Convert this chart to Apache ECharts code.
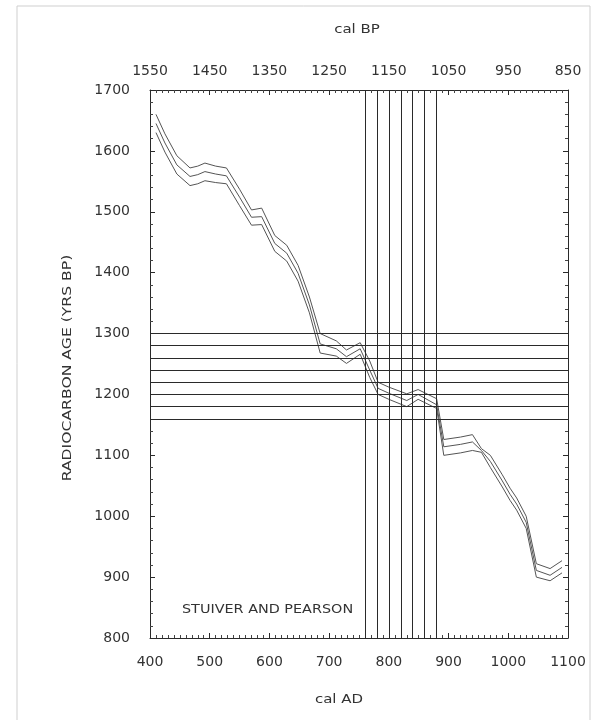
<!DOCTYPE html>
<html>
<head>
<meta charset="utf-8">
<script src="https://cdn.jsdelivr.net/npm/echarts@6/dist/echarts.min.js"></script>
<style>
html,body{margin:0;padding:0;background:#fff;}
#c{width:609px;height:720px;}
</style>
</head>
<body>
<div id="c"></div>
<script>
// Calendar years (cal AD) of curve vertices
const calAD  = [410, 425, 445, 467, 480, 492, 510, 528, 550, 570, 587, 609, 629, 648, 667, 685, 712, 729, 752, 768, 782, 800, 830, 849, 880, 892, 920, 940, 955, 970, 990, 1003, 1014, 1030, 1047, 1070, 1090];
// Calibration curve: upper band, centre, lower band (radiocarbon yrs BP)
const upperAge  = [1660, 1628, 1592, 1572, 1575, 1580, 1575, 1572, 1537, 1503, 1506, 1461, 1445, 1412, 1360, 1300, 1288, 1273, 1285, 1255, 1220, 1212, 1201, 1208, 1193, 1126, 1130, 1134, 1111, 1100, 1068, 1046, 1030, 1000, 922, 914, 927];
const middleAge = [1645, 1613, 1577, 1558, 1561, 1566, 1562, 1559, 1524, 1491, 1492, 1448, 1432, 1399, 1347, 1283, 1275, 1262, 1275, 1240, 1210, 1202, 1190, 1200, 1183, 1114, 1118, 1122, 1108, 1090, 1058, 1036, 1020, 990, 911, 903, 916];
const lowerAge  = [1630, 1598, 1562, 1543, 1546, 1551, 1548, 1546, 1510, 1478, 1479, 1435, 1419, 1386, 1334, 1268, 1263, 1251, 1266, 1228, 1200, 1192, 1180, 1192, 1177, 1100, 1104, 1108, 1105, 1080, 1048, 1026, 1010, 980, 900, 894, 907];
// Intercept lines
const interceptAges  = [1160, 1180, 1200, 1220, 1240, 1260, 1280, 1300];
const interceptYears = [760, 780, 800, 820, 840, 860, 880];
// Axis texts
const xTitleBottom = 'cal AD';
const xTitleTop = 'cal BP';
const yTitle = 'RADIOCARBON AGE (YRS BP)';
const noteText = 'STUIVER AND PEARSON';

const chart = echarts.init(document.getElementById('c'), null, {renderer: 'canvas'});
const ink = '#2a2a2a';
const lbl = {color: '#333', fontFamily: 'DejaVu Sans', fontSize: 14};

function curve(ages) {
  return {
    type: 'line', xAxisIndex: 0, yAxisIndex: 0, symbol: 'none', silent: true,
    lineStyle: {color: '#555', width: 1}, z: 3,
    data: calAD.map((x, i) => [x, ages[i]])
  };
}

const axisCommon = {
  type: 'value', min: 400, max: 1100, interval: 100,
  axisLine: {show: true, lineStyle: {color: ink, width: 1}},
  axisTick: {show: true, inside: true, length: 5, lineStyle: {color: ink}},
  minorTick: {show: true, splitNumber: 10, length: 3, lineStyle: {color: '#444'}},
  splitLine: {show: false}
};
const yCommon = {
  type: 'value', min: 800, max: 1700, interval: 100,
  axisLine: {show: true, lineStyle: {color: ink, width: 1}},
  axisTick: {show: true, inside: true, length: 5, lineStyle: {color: ink}},
  minorTick: {show: true, splitNumber: 5, length: 3, lineStyle: {color: '#444'}},
  splitLine: {show: false}
};

chart.setOption({
  backgroundColor: '#fff',
  animation: false,
  grid: {left: 150, right: 41, top: 90, bottom: 82, containLabel: false},
  xAxis: [
    Object.assign({}, axisCommon, {position: 'bottom',
      axisLabel: Object.assign({}, lbl, {margin: 17, formatter: v => String(v)})}),
    Object.assign({}, axisCommon, {position: 'top',
      axisLabel: Object.assign({}, lbl, {margin: 12, formatter: v => String(1950 - v)})})
  ],
  yAxis: [
    Object.assign({}, yCommon, {position: 'left',
      axisLabel: Object.assign({}, lbl, {margin: 20, formatter: v => String(v)})}),
    Object.assign({}, yCommon, {position: 'right', axisLabel: {show: false}})
  ],
  series: [
    curve(upperAge),
    curve(middleAge),
    curve(lowerAge),
    {
      type: 'line', xAxisIndex: 0, yAxisIndex: 0, data: [], silent: true,
      markLine: {
        silent: true, symbol: 'none', label: {show: false},
        lineStyle: {color: ink, width: 1, type: 'solid'},
        data: interceptAges.map(a => ({yAxis: a})).concat(interceptYears.map(y => ({xAxis: y})))
      }
    }
  ],
  graphic: [
    {type: 'rect', shape: {x: 17, y: 6, width: 573, height: 720}, silent: true,
     style: {fill: 'none', stroke: '#cfcfcf', lineWidth: 1}, z: -1},
    {type: 'text', x: 68, y: 368, rotation: Math.PI / 2, scaleX: 1.25, silent: true,
     style: {text: yTitle, fill: '#333', font: '12.5px "DejaVu Sans"', align: 'center', verticalAlign: 'middle'}},
    {type: 'text', x: 357, y: 30, scaleX: 1.25, silent: true,
     style: {text: xTitleTop, fill: '#333', font: '12px "DejaVu Sans"', align: 'center', verticalAlign: 'middle'}},
    {type: 'text', x: 339, y: 700, scaleX: 1.25, silent: true,
     style: {text: xTitleBottom, fill: '#333', font: '12px "DejaVu Sans"', align: 'center', verticalAlign: 'middle'}},
    {type: 'text', x: 182, y: 610, scaleX: 1.25, silent: true,
     style: {text: noteText, fill: '#333', font: '11.5px "DejaVu Sans"', align: 'left', verticalAlign: 'middle'}}
  ]
});
</script>
</body>
</html>
